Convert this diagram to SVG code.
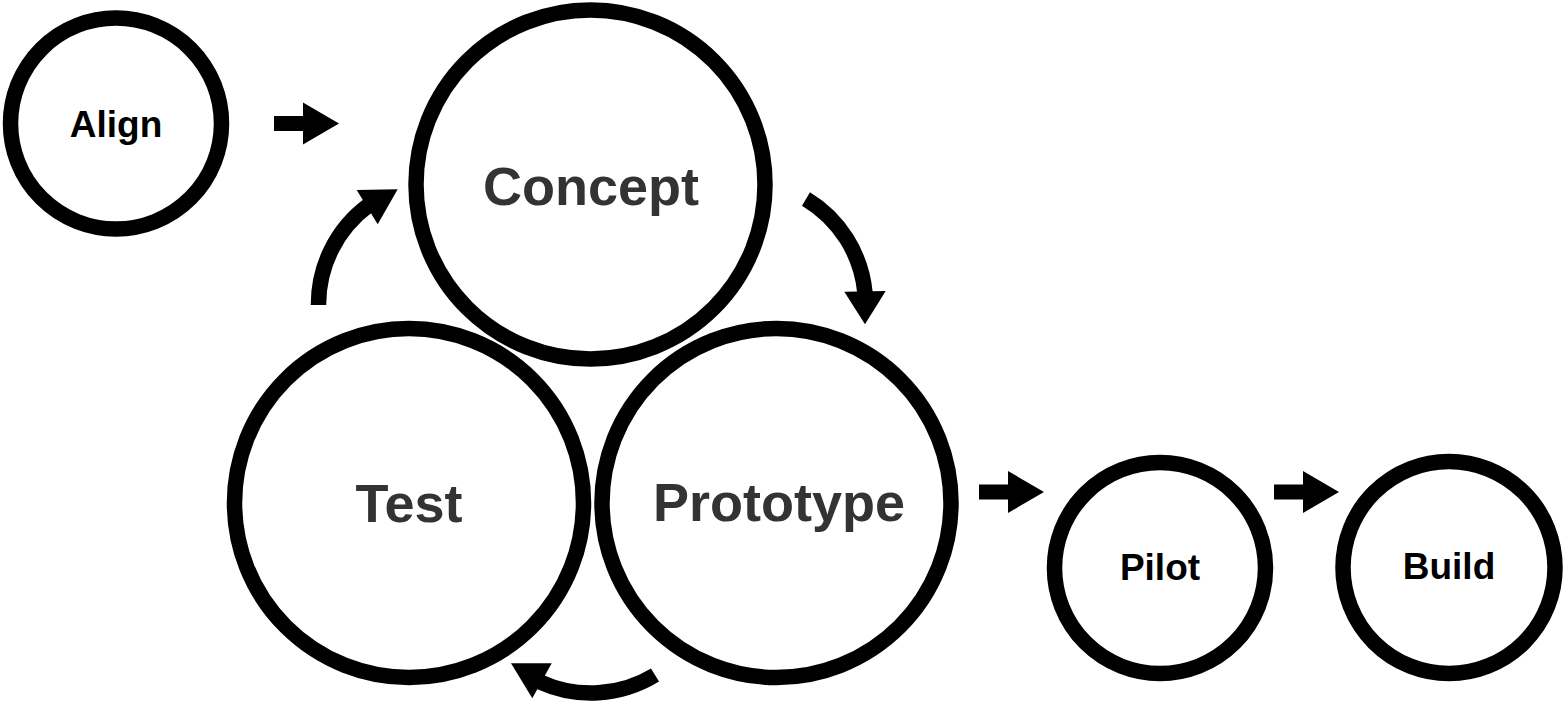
<svg xmlns="http://www.w3.org/2000/svg" xmlns:xlink="http://www.w3.org/1999/xlink" width="1565" height="703" viewBox="0 0 1565 703">
  <style>
    .ring { fill: none; stroke: #000; stroke-width: 15.5; }
    .big { font-family: "Liberation Sans", Arial, sans-serif; font-weight: bold; font-size: 54px; fill: #333; text-anchor: middle; }
    .small { font-family: "Liberation Sans", Arial, sans-serif; font-weight: bold; font-size: 37px; fill: #000; text-anchor: middle; }
    .arc { fill: none; stroke: #000; stroke-width: 15.5; stroke-linecap: butt; }
    .head { fill: #000; }
  </style>
  <defs>
    <polygon id="block" class="head" points="0,-7.5 29,-7.5 29,-21 65,0 29,21 29,7.5 0,7.5"/>
  </defs>
  <rect width="1565" height="703" fill="#fff"/>

  <g id="connectors">
    <use xlink:href="#block" href="#block" transform="translate(274,123.5)"/>
    <use xlink:href="#block" href="#block" transform="translate(979,492)"/>
    <use xlink:href="#block" href="#block" transform="translate(1274,492)"/>
    <g id="test-to-concept">
      <path class="arc" d="M318.5,305 A123,123 0 0 1 369,205"/>
      <polygon class="head" points="356.7,190 397.7,189.3 377.7,224.3"/>
    </g>
    <g id="concept-to-prototype">
      <path class="arc" d="M806,199 A123,123 0 0 1 865,293"/>
      <polygon class="head" points="844.3,291.7 885.7,291 865,324.3"/>
    </g>
    <g id="prototype-to-test">
      <path class="arc" d="M655,675 A123,123 0 0 1 540,682"/>
      <polygon class="head" points="511,663.3 551.7,663.3 532.3,698.3"/>
    </g>
  </g>

  <g id="align">
    <circle class="ring" cx="116" cy="123.5" r="105.5"/>
    <text class="small" x="116" y="137">Align</text>
  </g>
  <g id="concept">
    <circle class="ring" cx="590.5" cy="184.5" r="174.5"/>
    <text class="big" x="591" y="205">Concept</text>
  </g>
  <g id="test">
    <circle class="ring" cx="409" cy="503" r="174.5"/>
    <text class="big" x="409" y="522">Test</text>
  </g>
  <g id="prototype">
    <circle class="ring" cx="776.5" cy="503" r="174.5"/>
    <text class="big" x="779" y="521">Prototype</text>
  </g>
  <g id="pilot">
    <circle class="ring" cx="1160" cy="568" r="105.5"/>
    <text class="small" x="1160" y="580">Pilot</text>
  </g>
  <g id="build">
    <circle class="ring" cx="1449" cy="567.5" r="106"/>
    <text class="small" x="1449" y="579">Build</text>
  </g>
</svg>
